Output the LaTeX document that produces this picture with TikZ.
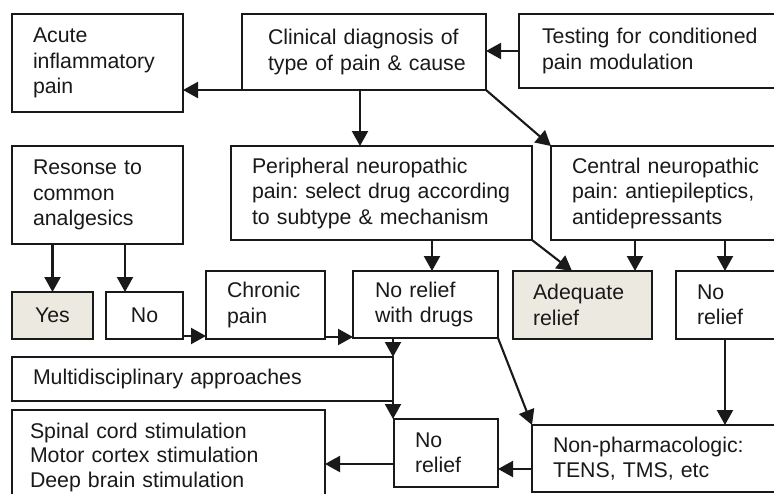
\documentclass[tikz,border=0pt]{standalone}
\usepackage{fontspec}
\setmainfont{Liberation Sans}
\frenchspacing
\usetikzlibrary{arrows.meta,calc}
\definecolor{ink}{RGB}{25,25,25}
\definecolor{relief}{RGB}{236,234,224}
% keep a line of box text together
\newcommand\oneline[1]{\mbox{#1}}
\tikzset{
  box/.style={draw=ink, line width=2.3pt, rectangle, anchor=north west,
    align=left, inner xsep=0pt, inner ysep=0pt, outer sep=0pt,
    font=\fontsize{21.3}{25.5}\selectfont, text=ink},
  okbox/.style={box, fill=relief},
  dims/.style n args={3}{minimum width=#1, minimum height=#2, text width=#3},
  link/.style={draw=ink, line width=2.1pt, -{Triangle[length=15pt,width=16pt]}}
}
\begin{document}
\begin{tikzpicture}[x=1pt,y=-1pt]
\clip (0,0) rectangle (774,493);

% top row
\node[box, dims={171pt}{98pt}{129pt}] (acute) at (12,14)
  {\oneline{Acute}\\\oneline{inflammatory}\\\oneline{pain}};
\node[box, dims={244pt}{76pt}{192pt}] (clin) at (242,14)
  {\oneline{Clinical diagnosis of}\\\oneline{type of pain \& cause}};
\node[box, dims={290pt}{74pt}{244pt}] (test) at (519,14)
  {\oneline{Testing for conditioned}\\\oneline{pain modulation}};

% second row
\node[box, dims={171pt}{98pt}{129pt}] (reso) at (12,146)
  {\oneline{Resonse to}\\\oneline{common}\\\oneline{analgesics}};
\node[box, dims={301pt}{94pt}{259pt}] (peri) at (231,146)
  {\oneline{Peripheral neuropathic}\\\oneline{pain: select drug according}\\\oneline{to subtype \& mechanism}};
\node[box, dims={260pt}{94pt}{218pt}] (cent) at (551,146)
  {\oneline{Central neuropathic}\\\oneline{pain: antiepileptics,}\\\oneline{antidepressants}};

% outcome row
\node[okbox, align=center, dims={81pt}{47pt}{60pt}] (yes) at (12,292) {Yes};
\node[box, align=center, dims={77pt}{47pt}{60pt}] (no) at (106,292) {No};
\node[box, dims={119pt}{68pt}{77pt}] (chron) at (206,271)
  {\oneline{Chronic}\\\oneline{pain}};
\node[box, dims={145pt}{67pt}{101pt}] (nrd) at (353,271)
  {\oneline{No relief}\\\oneline{with drugs}};
\node[okbox, dims={139pt}{68pt}{99pt}] (adeq) at (513,271)
  {\oneline{Adequate}\\\oneline{relief}};
\node[box, dims={130pt}{68pt}{88pt}] (nrr) at (676,271)
  {\oneline{No}\\\oneline{relief}};

% lower part
\node[box, dims={381pt}{44pt}{339pt}] (multi) at (12,357)
  {\oneline{Multidisciplinary approaches}};
\node[box, dims={313pt}{94pt}{277pt}, font=\fontsize{21.3}{24.5}\selectfont] (spin) at (12,410)
  {\oneline{Spinal cord stimulation}\\\oneline{Motor cortex stimulation}\\\oneline{Deep brain stimulation}};
\node[box, dims={104pt}{68pt}{62pt}] (nrb) at (394,419)
  {\oneline{No}\\\oneline{relief}};
\node[box, dims={280pt}{67pt}{238pt}] (nonph) at (532,425)
  {\oneline{Non-pharmacologic:}\\\oneline{TENS, TMS, etc}};

% connectors
\draw[link] (test.west) -- (test.west -| clin.east);
\draw[link] (clin.south west) -- (clin.south west -| acute.east);
\draw[link] ([xshift=-4pt]clin.south) -- ([xshift=-4pt]clin.south |- peri.north);
\draw[link] (clin.south east) -- (cent.north west);

\draw[link] (reso.south -| yes.north) -- (yes.north);
\coordinate (noin) at ($(no.north west)+(19,0)$);
\draw[link] (reso.south -| noin) -- (noin);
\draw[link] ([yshift=3pt]no.south east) -- ([yshift=3pt]no.south east -| chron.west);
\draw[link] ([yshift=2pt]chron.south east) -- ([yshift=2pt]chron.south east -| nrd.west);

\coordinate (pn) at ($(nrd.north)+(6.5,0)$);
\draw[link] (pn |- peri.south) -- (pn);
\coordinate (pa) at ($(adeq.north west)+(59,0)$);
\draw[link] (peri.south east) -- (pa);
\coordinate (ca) at ($(adeq.north east)+(-17,0)$);
\draw[link] (ca |- cent.south) -- (ca);
\coordinate (cr) at ($(nrr.north west)+(49,0)$);
\draw[link] (cr |- cent.south) -- (cr);
\draw[link] (nrr.south -| cr) -- (cr |- nonph.north);

\draw[link] (nrd.south east) -- (nonph.north west);
\draw[link] (nrd.south -| multi.east) -- (multi.north east);
\draw[link] (multi.north east) -- (multi.north east |- nrb.north);
\coordinate (np) at ($(nrb.south east)+(0,-18)$);
\draw[link] (np -| nonph.west) -- (np);
\coordinate (ns) at ($(nrb.west)+(0,11)$);
\draw[link] (ns) -- (ns -| spin.east);
\end{tikzpicture}
\end{document}
